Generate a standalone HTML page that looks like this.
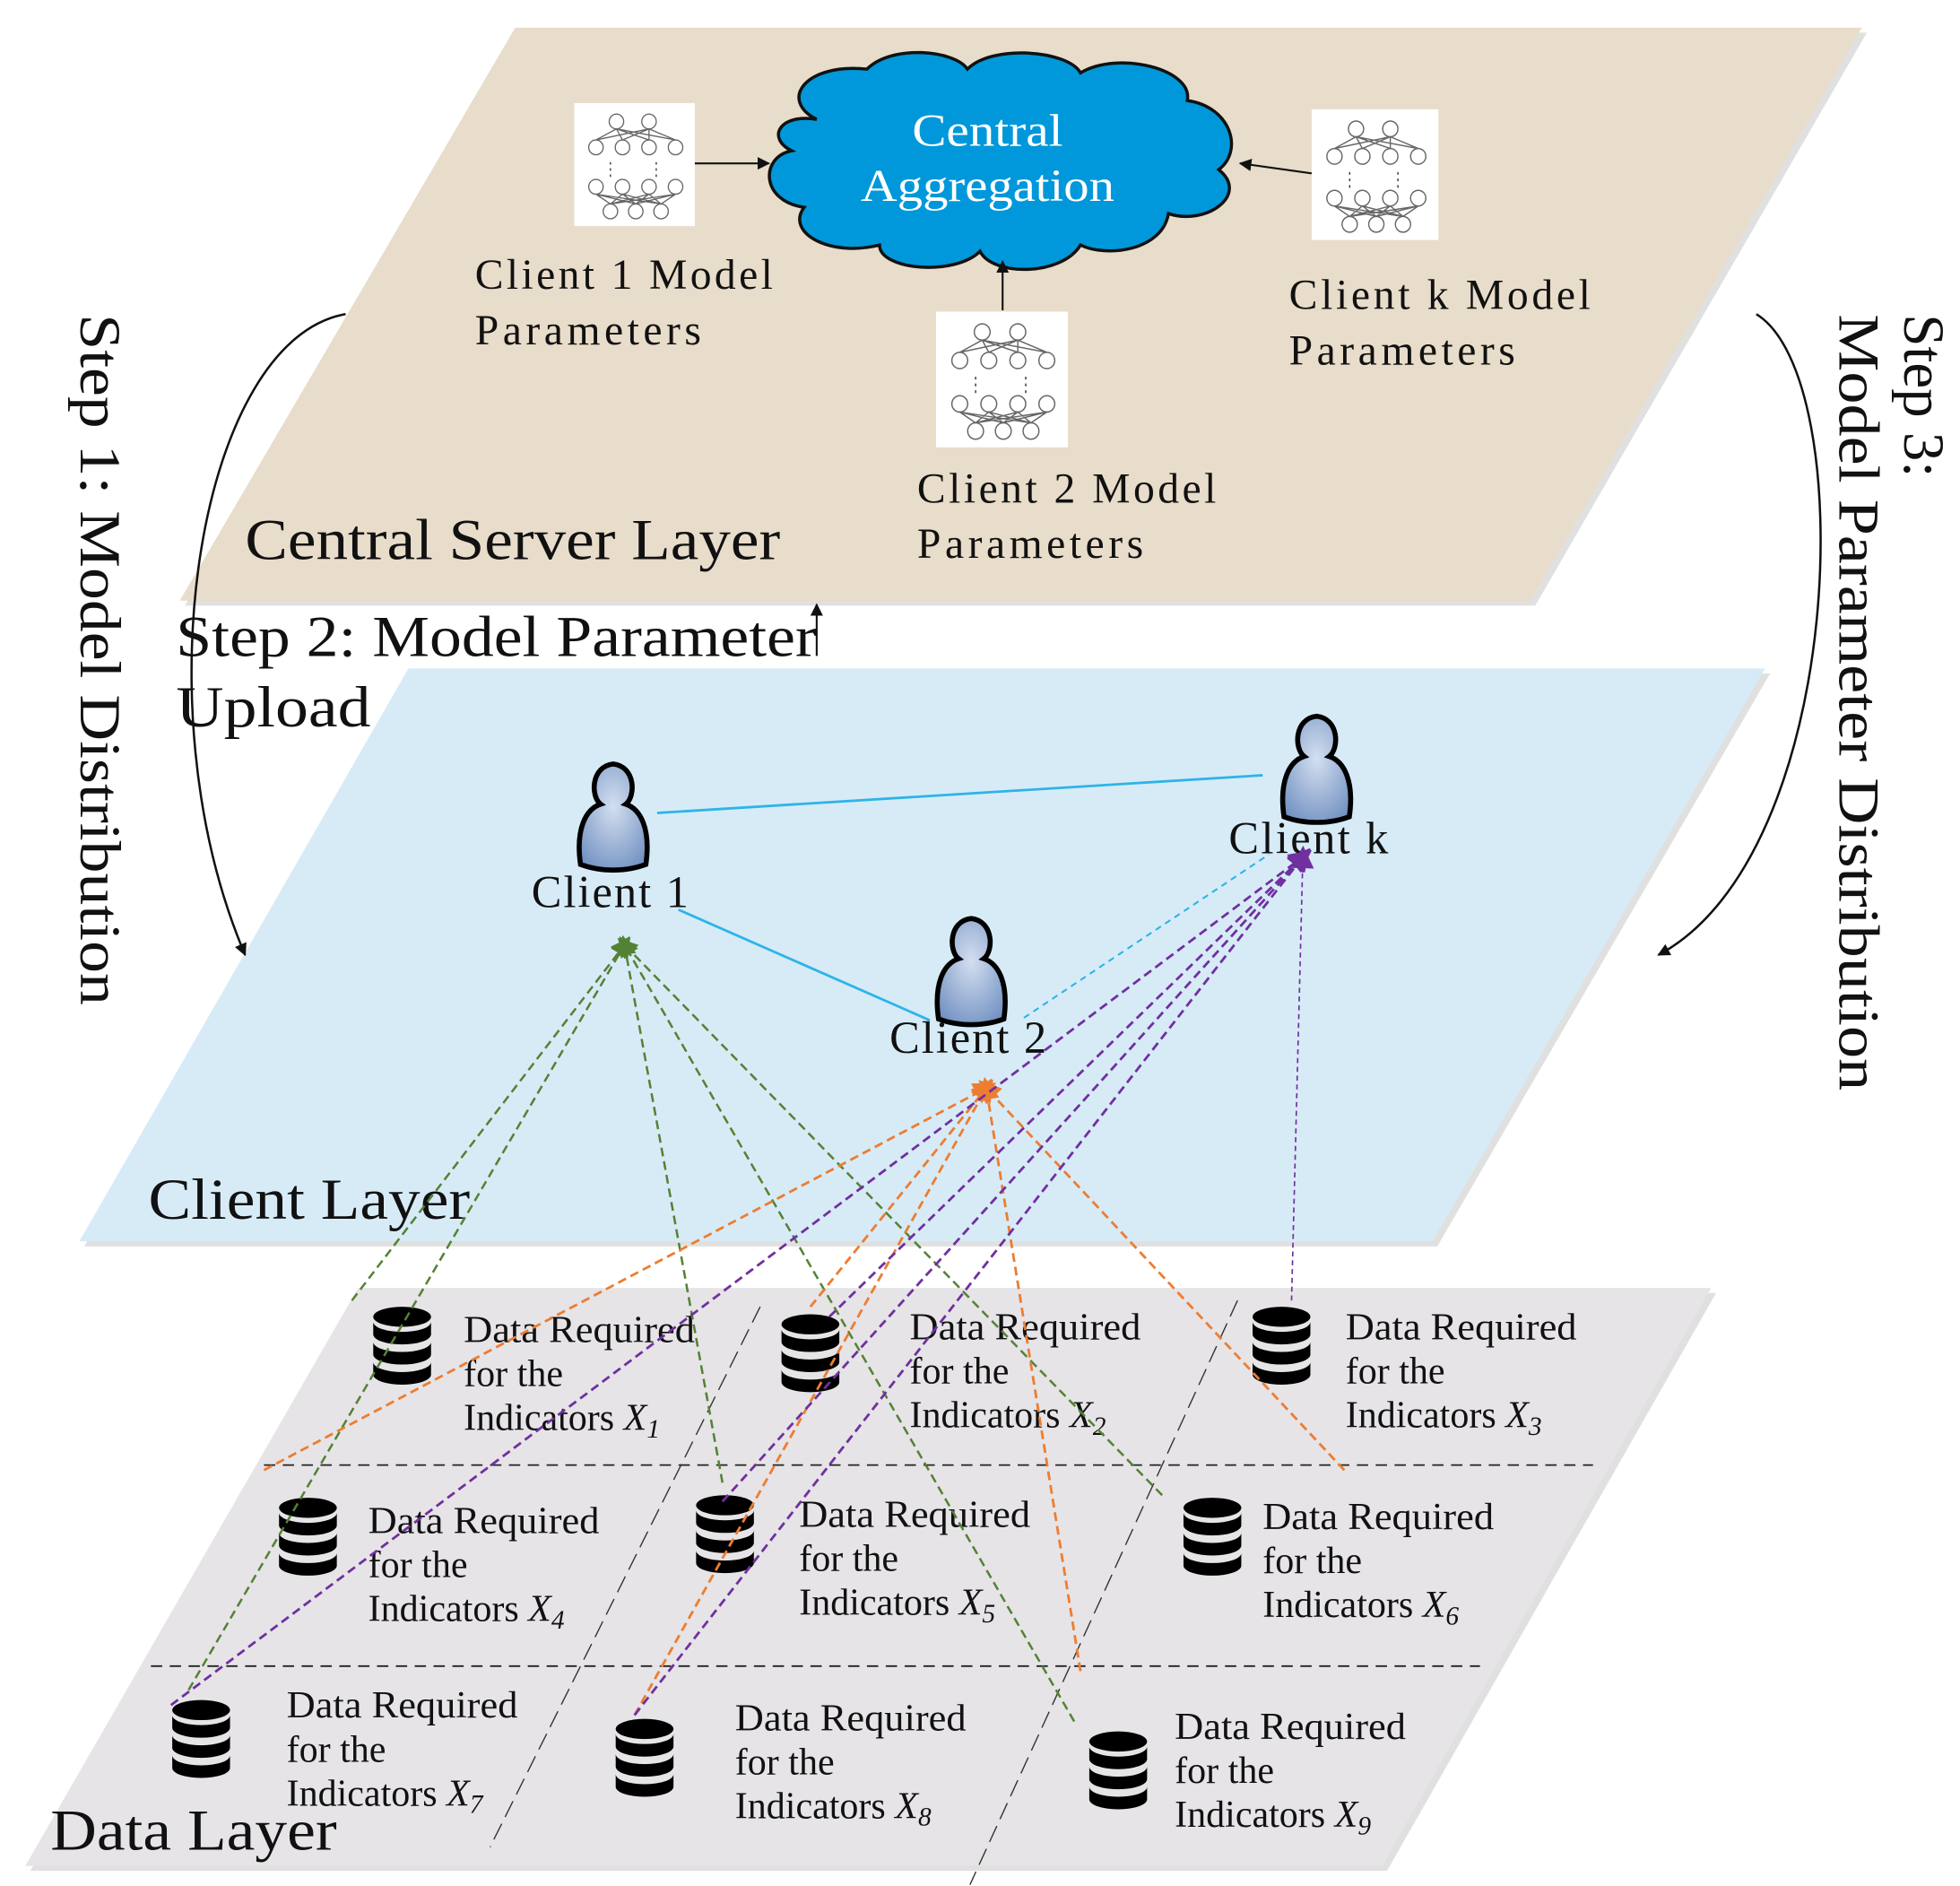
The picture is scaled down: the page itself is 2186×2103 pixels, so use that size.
<!DOCTYPE html>
<html><head><meta charset="utf-8"><style>
html,body{margin:0;padding:0;background:#fff;}
svg{display:block;}
text{font-family:"Liberation Serif",serif;fill:#111;}
</style></head><body>
<svg width="2186" height="2103" viewBox="0 0 1560 1501" xmlns="http://www.w3.org/2000/svg">
<defs>
<marker id="ab" markerWidth="10" markerHeight="10" refX="9" refY="5" orient="auto" markerUnits="userSpaceOnUse"><path d="M0,0 L10,5 L0,10 z" fill="#111"/></marker>
<marker id="ag" markerWidth="16" markerHeight="16" refX="8" refY="8" orient="auto" markerUnits="userSpaceOnUse"><path d="M0,0 L16,8 L0,16 z" fill="#548235"/></marker>
<marker id="ao" markerWidth="18" markerHeight="18" refX="9" refY="9" orient="auto" markerUnits="userSpaceOnUse"><path d="M0,0 L18,9 L0,18 z" fill="#ed7d31"/></marker>
<marker id="ap" markerWidth="18" markerHeight="18" refX="9" refY="9" orient="auto" markerUnits="userSpaceOnUse"><path d="M0,0 L18,9 L0,18 z" fill="#7030a0"/></marker>
<radialGradient id="pg" cx="0.5" cy="0.4" r="0.7"><stop offset="0" stop-color="#d4dff0"/><stop offset="1" stop-color="#6f8fc0"/></radialGradient>
<g id="nn" stroke="#666" stroke-width="1" fill="none">
<rect x="0" y="0" width="100" height="100" fill="#fff" stroke="none"/>
<circle cx="35" cy="15" r="6"/><circle cx="62" cy="15" r="6"/>
<circle cx="18" cy="36" r="6"/><circle cx="40" cy="36" r="6"/><circle cx="62" cy="36" r="6"/><circle cx="84" cy="36" r="6"/>
<path d="M18,30 L35,21 M40,30 L35,21 M62,30 L35,21 M84,30 L35,21 M18,30 L62,21 M40,30 L62,21 M62,30 L62,21 M84,30 L62,21"/>
<path d="M30,48 v12 M68,48 v12" stroke-dasharray="2 3" stroke="#333"/>
<circle cx="18" cy="68" r="6"/><circle cx="40" cy="68" r="6"/><circle cx="62" cy="68" r="6"/><circle cx="84" cy="68" r="6"/>
<circle cx="30" cy="88" r="6"/><circle cx="51" cy="88" r="6"/><circle cx="72" cy="88" r="6"/>
<path d="M30,82 L18,74 M30,82 L40,74 M30,82 L62,74 M30,82 L84,74 M51,82 L18,74 M51,82 L40,74 M51,82 L62,74 M51,82 L84,74 M72,82 L18,74 M72,82 L40,74 M72,82 L62,74 M72,82 L84,74"/>
</g>
<g id="db" fill="#000">
<ellipse cx="0" cy="-24" rx="23" ry="8"/>
<path d="M-23,-20 v10 a23,8 0 0 0 46,0 v-10 a23,8 0 0 1 -46,0z"/>
<path d="M-23,-4 v10 a23,8 0 0 0 46,0 v-10 a23,8 0 0 1 -46,0z"/>
<path d="M-23,12 v10 a23,8 0 0 0 46,0 v-10 a23,8 0 0 1 -46,0z"/>
</g>
<g id="person">
<path d="M-26,38 C-30,10 -22,-6 -10,-10 C-18,-16 -18,-40 0,-42 C18,-40 18,-16 10,-10 C22,-6 30,10 26,38 C10,44 -10,44 -26,38z" fill="url(#pg)" stroke="#000" stroke-width="4"/>
</g>
</defs>

<polygon points="414,26 1486,26 1222,482 147,482" fill="#ccc" opacity="0.6"/>
<polygon points="410,22 1482,22 1218,478 143,478" fill="#e8dcca"/>
<polygon points="329,536 1409,536 1144,992 67,992" fill="#ccc" opacity="0.6"/>
<polygon points="325,532 1405,532 1140,988 63,988" fill="#d7ebf7"/>
<polygon points="289,1029 1366,1029 1104,1489 24,1489" fill="#ccc" opacity="0.6"/>
<polygon points="285,1025 1362,1025 1100,1485 20,1485" fill="#e6e4e7"/>

<path d="M650,95 C620,80 640,50 690,55 C710,35 760,40 770,55 C790,35 850,40 860,58 C890,40 950,55 945,80 C980,85 990,120 970,135 C995,155 960,180 930,170 C925,200 880,205 860,195 C845,220 790,220 780,200 C760,220 700,215 700,195 C660,205 625,185 640,165 C605,160 605,125 630,120 C610,110 620,90 650,95z" fill="#0098da" stroke="#111" stroke-width="2.5"/>
<text x="786" y="116" font-size="36" text-anchor="middle" style="fill:#fff" textLength="120" lengthAdjust="spacingAndGlyphs">Central</text>
<text x="786" y="160" font-size="36" text-anchor="middle" style="fill:#fff" textLength="202" lengthAdjust="spacingAndGlyphs">Aggregation</text>

<use href="#nn" transform="translate(457,82) scale(0.96,0.98)"/>
<use href="#nn" transform="translate(1044,87) scale(1.01,1.04)"/>
<use href="#nn" transform="translate(745,248) scale(1.05,1.08)"/>
<line x1="553" y1="130" x2="612" y2="130" stroke="#111" stroke-width="1.5" marker-end="url(#ab)"/>
<line x1="1044" y1="138" x2="987" y2="130" stroke="#111" stroke-width="1.5" marker-end="url(#ab)"/>
<line x1="798" y1="247" x2="798" y2="208" stroke="#111" stroke-width="1.5" marker-end="url(#ab)"/>

<g font-size="34" lengthAdjust="spacingAndGlyphs">
<text x="378" y="230" textLength="237">Client 1 Model</text><text x="378" y="274" textLength="180">Parameters</text>
<text x="1026" y="246" textLength="240">Client k Model</text><text x="1026" y="290" textLength="180">Parameters</text>
<text x="730" y="400" textLength="238">Client 2 Model</text><text x="730" y="444" textLength="180">Parameters</text>
</g>
<text x="195" y="445" font-size="46" textLength="426" lengthAdjust="spacingAndGlyphs">Central Server Layer</text>
<text x="140" y="522" font-size="46" textLength="510" lengthAdjust="spacingAndGlyphs">Step 2: Model Parameter</text>
<text x="140" y="578" font-size="46" textLength="155" lengthAdjust="spacingAndGlyphs">Upload</text>
<line x1="650" y1="522" x2="650" y2="481" stroke="#111" stroke-width="1.5" marker-end="url(#ab)"/>

<text transform="translate(64,250) rotate(90)" font-size="46" textLength="550" lengthAdjust="spacingAndGlyphs">Step 1: Model Distribution</text>
<path d="M275,250 C160,270 110,560 195,760" fill="none" stroke="#111" stroke-width="1.8" marker-end="url(#ab)"/>
<text transform="translate(1516,250) rotate(90)" font-size="46" textLength="130" lengthAdjust="spacingAndGlyphs">Step 3:</text>
<text transform="translate(1464,250) rotate(90)" font-size="46" textLength="618" lengthAdjust="spacingAndGlyphs">Model Parameter Distribution</text>
<path d="M1398,250 C1480,300 1470,680 1320,760" fill="none" stroke="#111" stroke-width="1.8" marker-end="url(#ab)"/>

<text x="118" y="970" font-size="46" textLength="256" lengthAdjust="spacingAndGlyphs">Client Layer</text>
<line x1="523" y1="647" x2="1005" y2="617" stroke="#2db4e8" stroke-width="2"/>
<line x1="540" y1="724" x2="740" y2="812" stroke="#2db4e8" stroke-width="2"/>
<line x1="815" y1="810" x2="1010" y2="680" stroke="#2db4e8" stroke-width="1.5" stroke-dasharray="5 4"/>
<use href="#person" transform="translate(488,650)"/>
<use href="#person" transform="translate(1048,612)"/>
<use href="#person" transform="translate(773,773)"/>
<g font-size="36" lengthAdjust="spacingAndGlyphs">
<text x="423" y="722" textLength="125">Client 1</text>
<text x="978" y="679" textLength="127">Client k</text>
<text x="708" y="838" textLength="125">Client 2</text>
</g>

<g stroke="#222" stroke-width="1.3" stroke-dasharray="9 6" fill="none">
<line x1="210" y1="1166" x2="1268" y2="1166"/>
<line x1="120" y1="1326" x2="1178" y2="1326"/>
</g>
<g stroke="#333" stroke-width="1" stroke-dasharray="14 6" fill="none">
<line x1="605" y1="1040" x2="390" y2="1470"/>
<line x1="985" y1="1035" x2="772" y2="1500"/>
</g>
<use href="#db" transform="translate(320,1072)"/>
<use href="#db" transform="translate(645,1078)"/>
<use href="#db" transform="translate(1020,1072)"/>
<use href="#db" transform="translate(245,1224)"/>
<use href="#db" transform="translate(577,1222)"/>
<use href="#db" transform="translate(965,1224)"/>
<use href="#db" transform="translate(160,1385)"/>
<use href="#db" transform="translate(513,1400)"/>
<use href="#db" transform="translate(890,1410)"/>
<g font-size="30">
<text x="369" y="1068" textLength="184" lengthAdjust="spacingAndGlyphs">Data Required</text><text x="369" y="1103">for the</text><text x="369" y="1138">Indicators <tspan font-style="italic">X</tspan><tspan font-size="21" dy="6" font-style="italic">1</tspan></text>
<text x="724" y="1066" textLength="184" lengthAdjust="spacingAndGlyphs">Data Required</text><text x="724" y="1101">for the</text><text x="724" y="1136">Indicators <tspan font-style="italic">X</tspan><tspan font-size="21" dy="6" font-style="italic">2</tspan></text>
<text x="1071" y="1066" textLength="184" lengthAdjust="spacingAndGlyphs">Data Required</text><text x="1071" y="1101">for the</text><text x="1071" y="1136">Indicators <tspan font-style="italic">X</tspan><tspan font-size="21" dy="6" font-style="italic">3</tspan></text>
<text x="293" y="1220" textLength="184" lengthAdjust="spacingAndGlyphs">Data Required</text><text x="293" y="1255">for the</text><text x="293" y="1290">Indicators <tspan font-style="italic">X</tspan><tspan font-size="21" dy="6" font-style="italic">4</tspan></text>
<text x="636" y="1215" textLength="184" lengthAdjust="spacingAndGlyphs">Data Required</text><text x="636" y="1250">for the</text><text x="636" y="1285">Indicators <tspan font-style="italic">X</tspan><tspan font-size="21" dy="6" font-style="italic">5</tspan></text>
<text x="1005" y="1217" textLength="184" lengthAdjust="spacingAndGlyphs">Data Required</text><text x="1005" y="1252">for the</text><text x="1005" y="1287">Indicators <tspan font-style="italic">X</tspan><tspan font-size="21" dy="6" font-style="italic">6</tspan></text>
<text x="228" y="1367" textLength="184" lengthAdjust="spacingAndGlyphs">Data Required</text><text x="228" y="1402">for the</text><text x="228" y="1437">Indicators <tspan font-style="italic">X</tspan><tspan font-size="21" dy="6" font-style="italic">7</tspan></text>
<text x="585" y="1377" textLength="184" lengthAdjust="spacingAndGlyphs">Data Required</text><text x="585" y="1412">for the</text><text x="585" y="1447">Indicators <tspan font-style="italic">X</tspan><tspan font-size="21" dy="6" font-style="italic">8</tspan></text>
<text x="935" y="1384" textLength="184" lengthAdjust="spacingAndGlyphs">Data Required</text><text x="935" y="1419">for the</text><text x="935" y="1454">Indicators <tspan font-style="italic">X</tspan><tspan font-size="21" dy="6" font-style="italic">9</tspan></text>
</g>
<text x="40" y="1472" font-size="46" textLength="228" lengthAdjust="spacingAndGlyphs">Data Layer</text>

<g stroke="#548235" stroke-width="1.8" stroke-dasharray="7 4" fill="none">
<line x1="280" y1="1035" x2="497" y2="752" marker-end="url(#ag)"/>
<line x1="150" y1="1345" x2="497" y2="752" marker-end="url(#ag)"/>
<line x1="575" y1="1180" x2="497" y2="752" marker-end="url(#ag)"/>
<line x1="925" y1="1190" x2="497" y2="752" marker-end="url(#ag)"/>
<line x1="855" y1="1370" x2="497" y2="752" marker-end="url(#ag)"/>
</g>
<g stroke="#ed7d31" stroke-width="2" stroke-dasharray="7 4" fill="none">
<line x1="210" y1="1170" x2="785" y2="866" marker-end="url(#ao)"/>
<line x1="645" y1="1040" x2="785" y2="866" marker-end="url(#ao)"/>
<line x1="505" y1="1365" x2="785" y2="866" marker-end="url(#ao)"/>
<line x1="860" y1="1330" x2="785" y2="866" marker-end="url(#ao)"/>
<line x1="1070" y1="1170" x2="785" y2="866" marker-end="url(#ao)"/>
</g>
<g stroke="#7030a0" stroke-width="2" stroke-dasharray="7 4" fill="none">
<line x1="136" y1="1357" x2="1037" y2="682" marker-end="url(#ap)"/>
<line x1="505" y1="1365" x2="1037" y2="682" marker-end="url(#ap)"/>
<line x1="575" y1="1195" x2="1037" y2="682" marker-end="url(#ap)"/>
<line x1="660" y1="1048" x2="1037" y2="682" marker-end="url(#ap)"/>
<line x1="1028" y1="1035" x2="1037" y2="682" stroke-width="1.2" stroke-dasharray="4 3" marker-end="url(#ap)"/>
</g>
</svg>
</body></html>
